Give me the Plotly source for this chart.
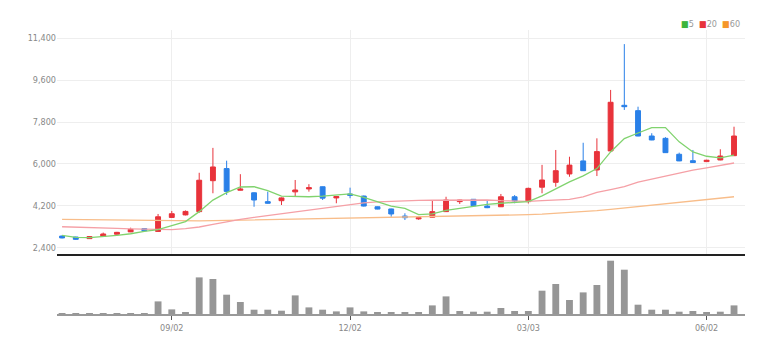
import plotly.graph_objects as go

dates = ["07/08", "07/15", "07/22", "07/29", "08/05", "08/12", "08/19", "08/26",
         "09/02", "09/09", "09/16", "09/23", "09/30", "10/07", "10/14", "10/21",
         "10/28", "11/04", "11/11", "11/18", "11/25", "12/02", "12/09", "12/16",
         "12/23", "12/30", "01/06", "01/13", "01/20", "01/27", "02/03", "02/10",
         "02/17", "02/24", "03/03", "03/10", "03/17", "03/24", "03/31", "04/07",
         "04/14", "04/21", "04/28", "05/05", "05/12", "05/19", "05/26", "06/02",
         "06/09", "06/16"]

opens = [2900, 2860, 2790, 2890, 2980, 3080, 3220, 3100, 3700, 3810,
         3950, 5280, 5800, 4870, 4760, 4380, 4420, 4800, 4925, 5020,
         4540, 4710, 4620, 4160, 4065, 3760, 3640, 3710, 3950, 4380,
         4480, 4190, 4160, 4590, 4380, 5000, 5210, 5570, 6130, 5740,
         6560, 8520, 8290, 7200, 7100, 6415, 6140, 6100, 6170, 6355]
highs = [2930, 2870, 2890, 3050, 3080, 3260, 3230, 3850, 3980, 4000,
         5620, 6690, 6140, 5560, 4780, 4810, 4560, 5310, 5130, 5030,
         4610, 4980, 4640, 4170, 4080, 3880, 3700, 4450, 4590, 4460,
         4490, 4410, 4710, 4660, 4980, 5960, 6600, 6310, 6910, 7100,
         9180, 11150, 8460, 7320, 7150, 6485, 6600, 6180, 6630, 7600]
lows = [2800, 2740, 2780, 2880, 2970, 3070, 3120, 3080, 3680, 3790,
        3900, 4740, 4670, 4860, 4160, 4290, 4235, 4620, 4810, 4450,
        4310, 4525, 4170, 4050, 3730, 3590, 3600, 3700, 3940, 4280,
        4190, 4100, 4150, 4310, 4300, 4740, 5020, 5450, 5700, 5480,
        6540, 8320, 7190, 7020, 6470, 6120, 6040, 6090, 6160, 6340]
closes = [2820, 2760, 2880, 2990, 3060, 3190, 3130, 3730, 3860, 3960,
          5300, 5870, 4820, 4920, 4450, 4310, 4540, 4880, 4980, 4530,
          4600, 4650, 4190, 4060, 3850, 3690, 3690, 3950, 4450, 4450,
          4205, 4120, 4590, 4410, 4950, 5310, 5710, 5950, 5710, 6530,
          8650, 8460, 7200, 7030, 6485, 6130, 6060, 6160, 6340, 7200]

ma5 = [2933, 2847, 2830, 2873, 2933, 3000, 3105, 3175, 3345, 3520,
       3950, 4445, 4765, 5010, 5020, 4850, 4620, 4590, 4590, 4620,
       4680, 4710, 4565, 4380, 4190, 4090, 3820, 3850, 4000, 4090,
       4180, 4260, 4310, 4335, 4380, 4630, 4945, 5230, 5490, 5800,
       6515, 7090, 7330, 7560, 7560, 6950, 6515, 6330, 6260, 6375]
ma20 = [3300, 3290, 3270, 3250, 3230, 3210, 3190, 3170, 3180, 3220,
        3290, 3400, 3520, 3620, 3700, 3780, 3850, 3930, 4010, 4120,
        4200, 4280, 4330, 4370, 4400, 4420, 4430, 4440, 4450, 4460,
        4470, 4450, 4420, 4400, 4390, 4420, 4450, 4480, 4580, 4780,
        4900, 5020, 5220, 5350, 5500, 5620, 5730, 5830, 5940, 6040]
ma60 = [3620, 3610, 3600, 3590, 3580, 3570, 3560, 3550, 3545, 3545,
        3550, 3560, 3570, 3580, 3590, 3600, 3610, 3620, 3630, 3640,
        3650, 3660, 3670, 3680, 3690, 3700, 3710, 3720, 3730, 3745,
        3760, 3775, 3790, 3805, 3820, 3840, 3870, 3900, 3940, 3990,
        4050, 4110, 4170, 4230, 4290, 4350, 4410, 4470, 4530, 4590]

volume = [1, 1, 1, 1, 1, 1, 1, 126, 46, 13,
          366, 350, 193, 120, 43, 43, 33, 186, 66, 43,
          26, 66, 26, 13, 13, 13, 13, 86, 176, 30,
          23, 23, 60, 30, 30, 233, 300, 140, 216, 290,
          533, 443, 93, 43, 43, 23, 30, 13, 23, 86]

tick_dates = ["09/02", "12/02", "03/03", "06/02"]
price_ticks = [2400, 4200, 6000, 7800, 9600, 11400]
ma_names = ["5", "20", "60"]

RED = "#e8333b"
BLUE = "#2a80e8"
MA_COLORS = ["#80d36e", "#f5a0a6", "#f8bd8a"]
LEGEND_COLORS = ["#3cb43c", "#e8333b", "#f5962a"]
FONT = "Liberation Sans Narrow, DejaVu Sans Condensed, Arial Narrow, sans-serif"

fig = go.Figure()

for vals, col, name in zip([ma60, ma20, ma5], MA_COLORS[::-1], ma_names[::-1]):
    fig.add_trace(go.Scatter(x=dates, y=vals, mode="lines", name=name,
                             line=dict(color=col, width=1.3),
                             xaxis="x", yaxis="y", showlegend=False,
                             hoverinfo="skip"))

fig.add_trace(go.Candlestick(
    x=dates, open=opens, high=highs, low=lows, close=closes,
    increasing=dict(line=dict(color=RED, width=1), fillcolor=RED),
    decreasing=dict(line=dict(color=BLUE, width=1), fillcolor=BLUE),
    whiskerwidth=0, xaxis="x", yaxis="y", showlegend=False))

fig.add_trace(go.Bar(x=dates, y=volume, xaxis="x2", yaxis="y2",
                     marker=dict(color="#969696", line=dict(width=0)),
                     width=0.5, showlegend=False))

legend_txt = "  ".join(
    f'<span style="color:{c}">■</span><span style="color:#999">{n}</span>'
    for c, n in zip(LEGEND_COLORS, ma_names))

fig.update_layout(
    width=774, height=353,
    margin=dict(l=57, r=29, t=30, b=39),
    paper_bgcolor="white", plot_bgcolor="white",
    boxgap=0.49,
    bargap=0.5,
    font=dict(family=FONT, size=9, color="#888"),
    xaxis=dict(domain=[0, 1], anchor="y", type="category",
               range=[-0.37, 49.8], tickvals=tick_dates,
               showticklabels=False, showgrid=True, gridcolor="#eeeeee",
               gridwidth=1, showline=True, linecolor="#222", linewidth=2,
               ticks="", rangeslider=dict(visible=False), fixedrange=True),
    xaxis2=dict(domain=[0, 1], anchor="y2", type="category", matches="x",
                tickvals=tick_dates, showgrid=False, showline=True,
                linecolor="#999", linewidth=2, ticks="outside", ticklen=4,
                tickcolor="#555", tickfont=dict(family=FONT, size=9, color="#888"),
                rangeslider=dict(visible=False)),
    yaxis=dict(domain=[0.2113, 1], range=[2130, 11756], tickvals=price_ticks,
               tickformat=",", showgrid=True, gridcolor="#eeeeee",
               zeroline=False, showline=False, ticks="",
               tickfont=dict(family=FONT, size=9, color="#888")),
    yaxis2=dict(domain=[0, 0.1972], range=[0, 560], showticklabels=False,
                showgrid=False, zeroline=False, showline=False),
    annotations=[dict(xref="paper", yref="paper", x=(742 - 57) / 688,
                      y=(353 - 39 - 24) / 284, xanchor="right", yanchor="middle",
                      text=legend_txt, showarrow=False,
                      font=dict(family=FONT, size=9, color="#999"))],
)

fig.write_html("out.html")
